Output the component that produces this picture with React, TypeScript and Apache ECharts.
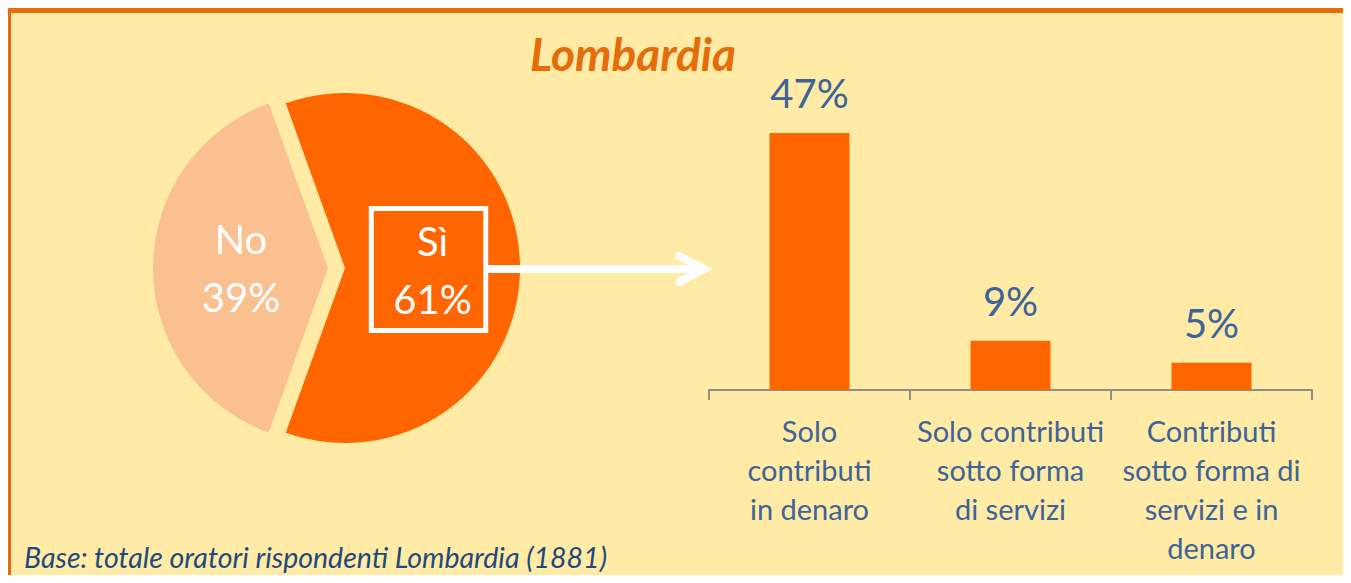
import React, { useEffect, useRef } from "react";
import * as echarts from "echarts";

const pieNames = ["Sì", "No"];
const pieValues = [61, 39];
const barCategories = [
  "Solo\ncontributi\nin denaro",
  "Solo contributi\nsotto forma\ndi servizi",
  "Contributi\nsotto forma di\nservizi e in\ndenaro",
];
const barValues = [47, 9, 5];
const titleText = "Lombardia";
const footnote = "Base: totale oratori rispondenti Lombardia (1881)";

const FONT = "Lato, 'Open Sans', sans-serif";
const BG = "#FFEBA5";
const ORANGE = "#FF6600";
const LIGHT = "#FAC090";
const BORDER = "#E46C0A";
const BLUE = "#3D6399";

export default function App() {
  const ref = useRef<HTMLDivElement>(null);
  useEffect(() => {
    if (!ref.current) return;
    const chart = echarts.init(ref.current, null, { renderer: "svg" });
    chart.setOption({
      animation: false,
      backgroundColor: "transparent",
      title: {
        text: titleText,
        left: 628,
        top: 25,
        textAlign: "center",
        textStyle: {
          fontFamily: FONT,
          fontSize: 46,
          fontWeight: "bold",
          fontStyle: "italic",
          color: BORDER,
        },
      },
      graphic: [
        {
          type: "line",
          z: 100,
          silent: true,
          shape: { x1: 487, y1: 269, x2: 702, y2: 269 },
          style: { stroke: "#ffffff", lineWidth: 8 },
        },
        {
          type: "polyline",
          z: 100,
          silent: true,
          shape: { points: [[679, 256], [704, 269], [679, 282]] },
          style: { stroke: "#ffffff", lineWidth: 8, lineCap: "round", lineJoin: "miter", fill: "none" },
        },
        {
          type: "text",
          z: 100,
          silent: true,
          x: 24,
          y: 557,
          style: {
            text: footnote,
            fontFamily: FONT,
            fontSize: 28.5,
            fontStyle: "italic",
            fill: "#1F497D",
            verticalAlign: "middle",
          },
        },
      ],
      grid: { left: 709, width: 603, top: 116.5, height: 273.5, containLabel: false },
      xAxis: {
        type: "category",
        data: barCategories,
        axisLine: { show: true, lineStyle: { color: "#8E8E8E", width: 2 } },
        axisTick: { show: true, length: 10, interval: 0, lineStyle: { color: "#8E8E8E", width: 2 } },
        axisLabel: {
          interval: 0,
          margin: 21,
          color: BLUE,
          fontFamily: FONT,
          fontSize: 29,
          lineHeight: 39,
          align: "center",
        },
      },
      yAxis: { type: "value", min: 0, max: 50, show: false, splitLine: { show: false } },
      series: [
        {
          type: "bar",
          data: barValues,
          barWidth: 80,
          itemStyle: { color: ORANGE },
          label: {
            show: true,
            position: "top",
            distance: 20,
            formatter: "{c}%",
            color: BLUE,
            fontFamily: FONT,
            fontSize: 40,
          },
          emphasis: { disabled: true },
        },
        {
          type: "pie",
          center: [328, 268],
          radius: 175,
          startAngle: 109.8,
          clockwise: true,
          selectedMode: "single",
          selectedOffset: 17,
          avoidLabelOverlap: false,
          emphasis: { disabled: true },
          labelLine: { show: false },
          labelLayout: (params: any) =>
            params.dataIndex === 0 ? { dx: -7, dy: 1.5 } : { dx: 3.5, dy: 0 },
          label: {
            show: true,
            position: "inside",
            formatter: "{b}\n{c}%",
            color: "#ffffff",
            fontFamily: FONT,
            fontSize: 40,
            lineHeight: 58,
          },
          data: pieNames.map((n, i) =>
            i === 0
              ? {
                  name: n,
                  value: pieValues[i],
                  selected: true,
                  itemStyle: { color: ORANGE },
                  label: {
                    borderColor: "#ffffff",
                    borderWidth: 5,
                    padding: [3, 14, 3, 22],
                  },
                }
              : { name: n, value: pieValues[i], itemStyle: { color: LIGHT } }
          ),
        },
      ],
    });
    return () => chart.dispose();
  }, []);
  return (
    <div
      style={{
        margin: -8,
        width: 1351,
        height: 583,
        overflow: "hidden",
        position: "relative",
        background: "#ffffff",
      }}
    >
      <div
        style={{
          position: "absolute",
          left: 6,
          top: 7.5,
          width: 1500,
          height: 800,
          border: `5px solid ${BORDER}`,
          borderRadius: 4,
          background: BG,
        }}
      />
      <div ref={ref} style={{ position: "absolute", left: 0, top: 0, width: 1351, height: 583 }} />
    </div>
  );
}
